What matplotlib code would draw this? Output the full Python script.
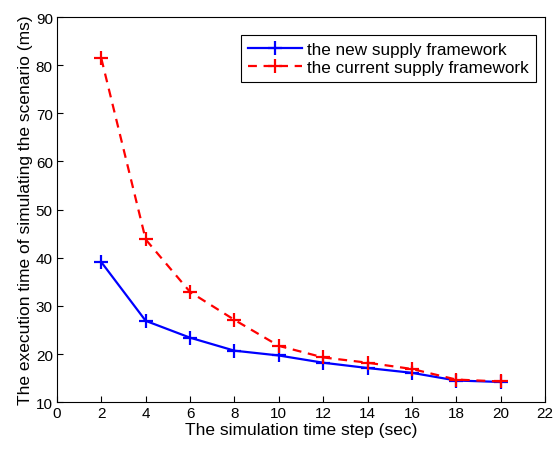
import matplotlib
matplotlib.use("Agg")
import matplotlib.pyplot as plt

plt.rcParams['font.family'] = ['Liberation Sans', 'DejaVu Sans']

time_steps = [2, 4, 6, 8, 10, 12, 14, 16, 18, 20]
new_framework = [39.1, 26.9, 23.4, 20.7, 19.7, 18.2, 17.1, 16.1, 14.5, 14.2]
current_framework = [81.4, 43.8, 32.9, 27.1, 21.7, 19.3, 18.2, 16.9, 14.7, 14.3]
x_ticks = list(range(0, 23, 2))
y_ticks = list(range(10, 91, 10))

fig = plt.figure(figsize=(5.53, 4.52), dpi=100)
ax = fig.add_axes([0.103, 0.108, 0.8825, 0.852])

ax.plot(time_steps, new_framework, color='#0000ff', linestyle='-', linewidth=1.6,
        marker='+', markersize=10, markeredgewidth=1.6,
        label='the new supply framework')
ax.plot(time_steps, current_framework, color='#ff0000', linestyle='--', linewidth=1.6,
        dashes=(4, 3), marker='+', markersize=10, markeredgewidth=1.6,
        label='the current supply framework')

ax.set_xlim(0, 22)
ax.set_ylim(10, 90)
ax.set_xticks(x_ticks)
ax.set_yticks(y_ticks)
ax.tick_params(direction='in', length=4, labelsize=11, top=False, right=False, pad=3)
for s in ax.spines.values():
    s.set_linewidth(0.8)

ax.set_xlabel('The simulation time step (sec)', fontsize=12.5, labelpad=1)
ax.set_ylabel('The execution time of simulating the scenario (ms)', fontsize=12.5, labelpad=2)

leg = ax.legend(loc='upper right', bbox_to_anchor=(0.9816, 0.953), borderaxespad=0,
                fontsize=12.3, frameon=True, fancybox=False, edgecolor='black',
                framealpha=1, handlelength=3.2, borderpad=0.4, labelspacing=0.2,
                handletextpad=0.3)
leg.get_frame().set_linewidth(0.8)

fig.savefig('out.png', dpi=100)
